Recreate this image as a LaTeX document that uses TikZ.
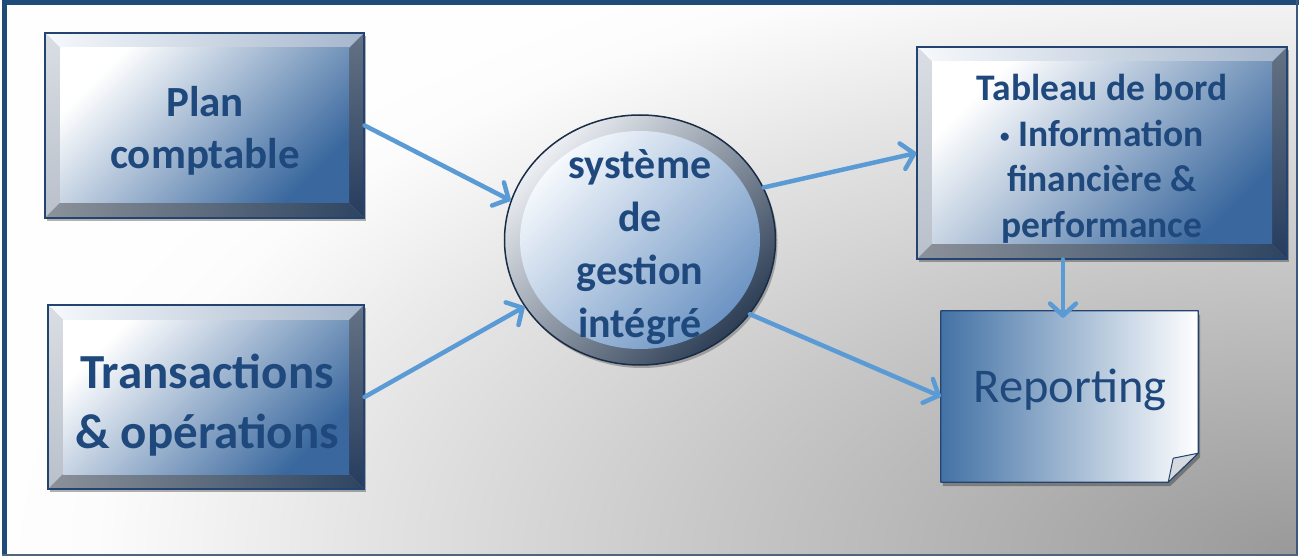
\documentclass[tikz,border=0pt]{standalone}
\usepackage{fontspec}
\setmainfont{Carlito}
\usetikzlibrary{arrows.meta,shapes.geometric,shadows}

\definecolor{txt}{RGB}{31,73,125}
\definecolor{framec}{RGB}{31,75,122}
\definecolor{arr}{RGB}{91,155,213}
\definecolor{edge}{RGB}{35,68,112}
\definecolor{btopL}{RGB}{246,249,252}
\definecolor{btopR}{RGB}{165,182,204}
\definecolor{bleftT}{RGB}{218,222,228}
\definecolor{bleftB}{RGB}{185,192,202}
\definecolor{bbotL}{RGB}{140,146,154}
\definecolor{bbotR}{RGB}{45,68,97}
\definecolor{brightT}{RGB}{100,114,132}
\definecolor{brightB}{RGB}{38,60,94}
\definecolor{faceD}{RGB}{58,104,158}
\definecolor{ringL}{RGB}{236,239,243}
\definecolor{ringD}{RGB}{45,62,85}
\definecolor{innerL}{RGB}{246,249,253}
\definecolor{innerD}{RGB}{108,148,195}
\definecolor{circEdge}{RGB}{25,45,70}
\definecolor{repL}{RGB}{67,114,165}
\definecolor{foldc}{RGB}{214,217,222}
\definecolor{bgA}{RGB}{153,153,153}
\definecolor{bgB}{RGB}{181,181,181}
\definecolor{bgC}{RGB}{200,200,200}
\definecolor{bgD}{RGB}{228,228,228}
\definecolor{bgE}{RGB}{243,243,243}
\definecolor{bgF}{RGB}{252,252,252}
\definecolor{bgG}{RGB}{254,254,254}

% the central 25bp radius is fitted to the half-size of the shaded path
\pgfdeclareradialshading{bgshade}{\pgfpoint{0bp}{0bp}}{%
  color(0bp)=(bgA); color(6.85bp)=(bgB); color(11.5bp)=(bgC); color(18bp)=(bgD);
  color(21.15bp)=(bgE); color(23.1bp)=(bgF); color(25bp)=(bgG); color(50bp)=(bgG)}

\tikzset{
  bevelbox/.style={rectangle, draw=edge, line width=1.2pt, inner sep=0pt,
    drop shadow={shadow xshift=2pt, shadow yshift=-3pt, opacity=0.3, fill=black},
    path picture={
      \coordinate (bbA) at (path picture bounding box.south west);
      \coordinate (bbB) at (path picture bounding box.north east);
      \coordinate (bbC) at ([xshift=15pt,yshift=15pt]path picture bounding box.south west);
      \coordinate (bbD) at ([xshift=-15pt,yshift=-15pt]path picture bounding box.north east);
      \shade[left color=btopL, right color=btopR] (bbA |- bbB) -- (bbB) -- (bbD) -- (bbC |- bbD) -- cycle;
      \shade[top color=bleftT, bottom color=bleftB] (bbA) -- (bbA |- bbB) -- (bbC |- bbD) -- (bbC) -- cycle;
      \shade[left color=bbotL, right color=bbotR] (bbA) -- (bbC) -- (bbD |- bbC) -- (bbB |- bbA) -- cycle;
      \shade[top color=brightT, bottom color=brightB] (bbB |- bbA) -- (bbD |- bbC) -- (bbD) -- (bbB) -- cycle;
      \shade[top color=white, bottom color=faceD, shading angle=45] (bbC) rectangle (bbD);
    }},
  circstyle/.style={ellipse, draw=circEdge, line width=1.5pt, inner sep=0pt,
    drop shadow={shadow xshift=2pt, shadow yshift=-3pt, opacity=0.25, fill=black},
    path picture={
      \shade[top color=ringL, bottom color=ringD, shading angle=45]
        (path picture bounding box.south west) rectangle (path picture bounding box.north east);
      \shade[top color=innerL, bottom color=innerD, shading angle=45]
        (path picture bounding box.center) ellipse [x radius=120pt, y radius=109pt];
    }},
  lbl/.style={text=txt, align=center, inner sep=0pt, anchor=base},
  conn/.style={draw=arr, line width=4.5pt, line cap=round,
    -{Straight Barb[length=12pt, width=26pt, round]}}
}

\begin{document}
\begin{tikzpicture}[x=1pt, y=-1pt]
\useasboundingbox (0,0) rectangle (1299,556);
% background panel
\fill[white] (0,0) rectangle (1299,556);
\begin{scope}
  \clip (7,5) rectangle (1296,554);
  \shade[shading=bgshade] (-4,-98.6) rectangle (2596,1206.6);
\end{scope}
% frame
\fill[framec] (2,0) rectangle (1299,5);
\fill[framec] (2,0) rectangle (7,556);
\fill[framec!70!gray] (1296,0) rectangle (1297.5,556);
\fill[framec!50!gray] (2,554.3) rectangle (1297.5,556);

% boxes
\node[bevelbox, minimum width=319pt, minimum height=185pt] (plan) at (204.5,125.5) {};
\node[bevelbox, minimum width=316pt, minimum height=184pt] (trans) at (206,397) {};
\node[bevelbox, minimum width=370pt, minimum height=212pt] (tab) at (1102,153) {};
\node[circstyle, minimum width=271pt, minimum height=250pt] (circ) at (640,240) {};
\node[rectangle, inner sep=0pt, minimum width=257pt, minimum height=171pt] (rep) at (1069.5,396.5) {};

% reporting note shape
\path[drop shadow={shadow xshift=2pt, shadow yshift=-4pt, opacity=0.3, fill=black},
      left color=repL, right color=white, draw=edge, line width=1.2pt, line join=round]
  (rep.south west) -- (rep.north west) -- (rep.north east) -- ([yshift=29pt]rep.south east)
  -- ([xshift=-30pt]rep.south east) -- cycle;
\filldraw[fill=foldc, draw=edge, line width=1pt, line join=round]
  ([yshift=29pt]rep.south east) -- ([xshift=-25pt,yshift=24pt]rep.south east)
  -- ([xshift=-30pt]rep.south east) -- cycle;

% texts (anchor = baseline of last line)
\node[lbl, font=\bfseries\fontsize{43}{52}\selectfont] (planT) at (205,169) {Plan\\comptable};
\node[lbl, font=\bfseries\fontsize{49}{60}\selectfont] (transT) at (207,448) {Transactions\\\& opérations};
\node[lbl, font=\bfseries\fontsize{37.5}{46}\selectfont] (tabT) at (1102,238)
  {Tableau de bord\\\raisebox{3.5pt}{\fontsize{19}{19}\selectfont •} Information\\financière \&\\performance};
\node[lbl, font=\bfseries\fontsize{42}{53}\selectfont] (circT) at (640,337) {système\\de\\gestion\\intégré};
\node[lbl, font=\fontsize{48.5}{58}\selectfont] (repT) at (1070,402) {Reporting};

% connectors
\draw[conn] (plan.east) -- (circ.163);
\draw[conn] (trans.east) -- (circ.210);
\draw[conn] (circ.23) -- (tab.west);
\draw[conn] (circ.-34) -- (rep.west);
\draw[conn, shorten >=-7pt] ([xshift=-39pt]tab.south) -- ([xshift=-39pt]tab.south |- rep.north);
\end{tikzpicture}
\end{document}
